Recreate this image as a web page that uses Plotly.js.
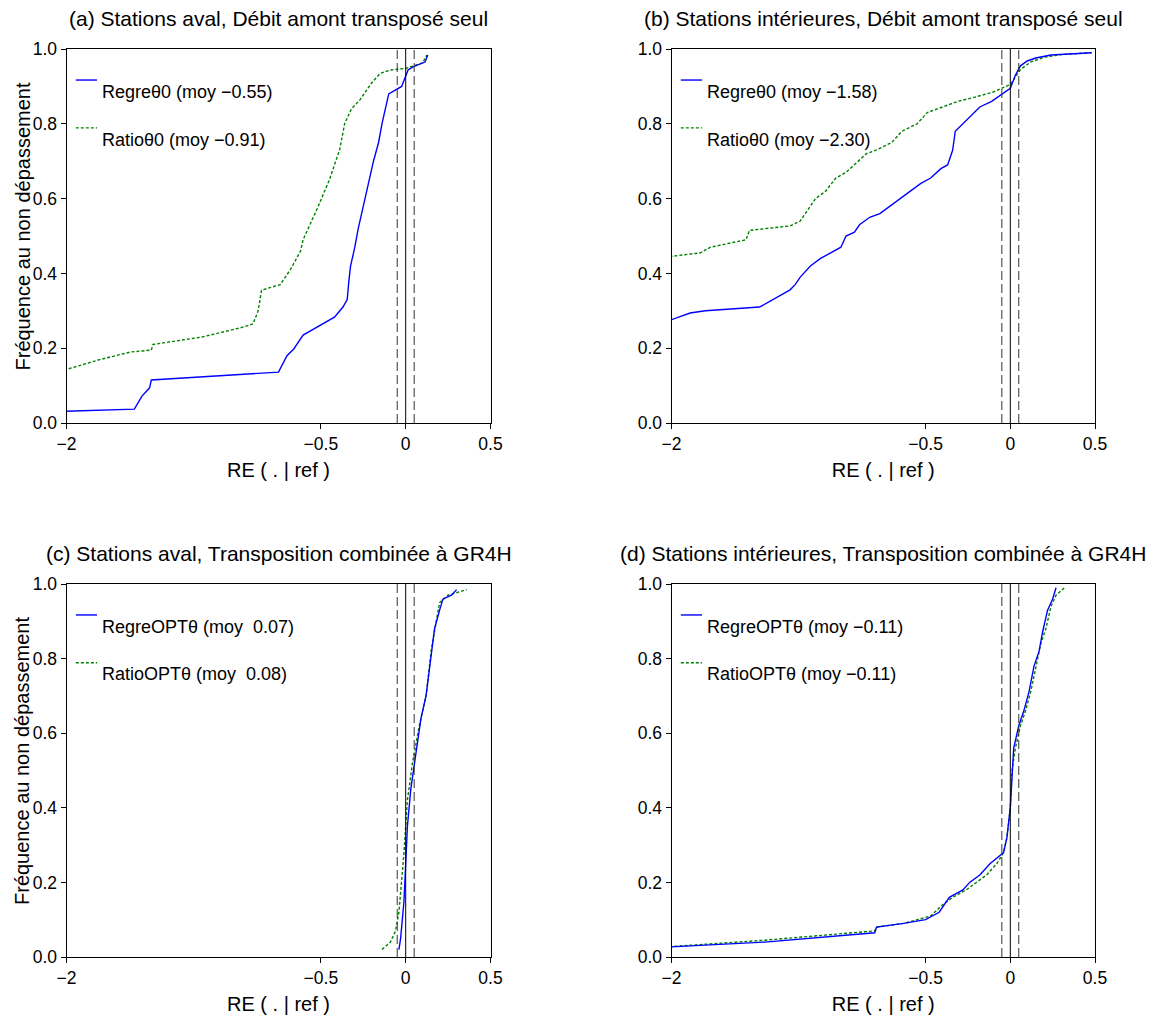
<!DOCTYPE html>
<html><head><meta charset="utf-8">
<script src="https://cdn.plot.ly/plotly-3.0.1.min.js"></script>
<style>body{margin:0;padding:0;background:#fff}#chart{width:1158px;height:1018px}</style>
</head><body><div id="chart"></div>
<script>
// ---- data (RE values, non-exceedance frequency) ----
const panelTitles = [
  "(a) Stations aval, Débit amont transposé seul",
  "(b) Stations intérieures, Débit amont transposé seul",
  "(c) Stations aval, Transposition combinée à GR4H",
  "(d) Stations intérieures, Transposition combinée à GR4H"
];
const blueNames = ["Regreθ0 (moy −0.55)", "Regreθ0 (moy −1.58)", "RegreOPTθ (moy  0.07)", "RegreOPTθ (moy −0.11)"];
const greenNames = ["Ratioθ0 (moy −0.91)", "Ratioθ0 (moy −2.30)", "RatioOPTθ (moy  0.08)", "RatioOPTθ (moy −0.11)"];
const xTitle = "RE ( . | ref )";
const yTitle = "Fréquence au non dépassement";
const xTickVals = [-2, -0.5, 0, 0.5];
const xTickText = ["−2", "−0.5", "0", "0.5"];
const yTickVals = [0, 0.2, 0.4, 0.6, 0.8, 1.0];
const yTickText = ["0.0", "0.2", "0.4", "0.6", "0.8", "1.0"];
const refLines = [-0.05, 0, 0.05];

const aBlueX = [-2.1, -1.60, -1.555, -1.51, -1.50, -0.75, -0.70, -0.66, -0.605, -0.42, -0.37, -0.345, -0.335, -0.325, -0.30, -0.28, -0.25, -0.22, -0.19, -0.16, -0.14, -0.115, -0.10, -0.024, 0.014, 0.043, 0.114, 0.13];
const aBlueY = [0.03, 0.037, 0.072, 0.094, 0.115, 0.136, 0.18, 0.198, 0.235, 0.283, 0.31, 0.33, 0.38, 0.42, 0.47, 0.52, 0.58, 0.64, 0.70, 0.75, 0.80, 0.85, 0.88, 0.90, 0.944, 0.952, 0.965, 0.984];
const aGreenX = [-2.1, -1.8, -1.62, -1.50, -1.49, -1.2, -0.97, -0.90, -0.87, -0.85, -0.74, -0.68, -0.62, -0.605, -0.565, -0.52, -0.45, -0.42, -0.39, -0.36, -0.32, -0.27, -0.20, -0.15, -0.09, 0.0, 0.10, 0.125];
const aGreenY = [0.13, 0.17, 0.19, 0.195, 0.21, 0.23, 0.255, 0.265, 0.30, 0.355, 0.37, 0.41, 0.46, 0.49, 0.53, 0.575, 0.65, 0.69, 0.73, 0.80, 0.84, 0.864, 0.91, 0.935, 0.944, 0.948, 0.963, 0.984];

const bBlueX = [-2.1, -1.89, -1.80, -1.48, -1.30, -1.27, -1.24, -1.18, -1.12, -1.00, -0.97, -0.92, -0.89, -0.83, -0.77, -0.71, -0.65, -0.59, -0.53, -0.47, -0.41, -0.37, -0.34, -0.325, -0.28, -0.24, -0.18, -0.11, -0.06, 0.0, 0.03, 0.06, 0.10, 0.15, 0.24, 0.48];
const bBlueY = [0.26, 0.294, 0.30, 0.31, 0.356, 0.37, 0.39, 0.42, 0.44, 0.47, 0.50, 0.51, 0.53, 0.55, 0.56, 0.58, 0.60, 0.62, 0.64, 0.655, 0.68, 0.69, 0.73, 0.78, 0.80, 0.82, 0.845, 0.86, 0.875, 0.895, 0.93, 0.955, 0.968, 0.976, 0.984, 0.99];
const bGreenX = [-2.1, -1.83, -1.77, -1.56, -1.54, -1.30, -1.24, -1.15, -1.09, -1.03, -0.97, -0.91, -0.85, -0.79, -0.70, -0.64, -0.55, -0.49, -0.40, -0.31, -0.22, -0.10, 0.0, 0.03, 0.06, 0.12, 0.20, 0.30, 0.48];
const bGreenY = [0.44, 0.455, 0.47, 0.49, 0.515, 0.527, 0.54, 0.60, 0.62, 0.655, 0.67, 0.695, 0.72, 0.73, 0.75, 0.78, 0.80, 0.83, 0.845, 0.86, 0.87, 0.885, 0.905, 0.925, 0.945, 0.965, 0.978, 0.985, 0.99];

const cBlueX = [-0.04, -0.03, -0.01, 0.0, 0.01, 0.03, 0.06, 0.09, 0.12, 0.15, 0.17, 0.20, 0.22, 0.27, 0.30];
const cBlueY = [0.02, 0.05, 0.15, 0.26, 0.35, 0.45, 0.55, 0.64, 0.70, 0.80, 0.88, 0.93, 0.96, 0.97, 0.985];
const cGreenX = [-0.14, -0.09, -0.06, -0.04, -0.01, 0.01, 0.04, 0.08, 0.12, 0.15, 0.18, 0.20, 0.25, 0.36];
const cGreenY = [0.02, 0.04, 0.07, 0.12, 0.28, 0.42, 0.52, 0.62, 0.70, 0.82, 0.90, 0.95, 0.97, 0.985];

const dBlueX = [-2.1, -1.45, -0.80, -0.79, -0.63, -0.50, -0.42, -0.36, -0.28, -0.24, -0.18, -0.12, -0.04, -0.02, 0.0, 0.01, 0.02, 0.05, 0.08, 0.11, 0.14, 0.17, 0.19, 0.22, 0.25, 0.27];
const dBlueY = [0.025, 0.04, 0.065, 0.08, 0.09, 0.10, 0.12, 0.16, 0.18, 0.20, 0.22, 0.25, 0.28, 0.32, 0.40, 0.50, 0.56, 0.62, 0.66, 0.71, 0.78, 0.82, 0.87, 0.93, 0.96, 0.99];
const dGreenX = [-2.1, -1.45, -0.80, -0.79, -0.63, -0.47, -0.40, -0.34, -0.26, -0.20, -0.14, -0.08, -0.04, -0.02, 0.0, 0.01, 0.03, 0.06, 0.09, 0.12, 0.15, 0.18, 0.21, 0.24, 0.27, 0.32];
const dGreenY = [0.025, 0.045, 0.07, 0.08, 0.09, 0.11, 0.14, 0.16, 0.18, 0.20, 0.22, 0.25, 0.28, 0.32, 0.40, 0.50, 0.56, 0.62, 0.66, 0.71, 0.78, 0.84, 0.88, 0.94, 0.97, 0.99];

const blueSeries = [[aBlueX, aBlueY], [bBlueX, bBlueY], [cBlueX, cBlueY], [dBlueX, dBlueY]];
const greenSeries = [[aGreenX, aGreenY], [bGreenX, bGreenY], [cGreenX, cGreenY], [dGreenX, dGreenY]];

// ---- layout geometry ----
const W = 1158, H = 1018;
const colX = [[66.5, 490.5], [671.5, 1095]];
const rowY = [[49, 423], [584, 957]];
const FONT = "Liberation Sans, Arial, Helvetica, sans-serif";

const traces = [];
const layout = {
  width: W, height: H, margin: {l: 0, r: 0, t: 0, b: 0},
  paper_bgcolor: "#fff", plot_bgcolor: "#fff", showlegend: false,
  font: {family: FONT, size: 17.5, color: "#000"},
  shapes: [], annotations: []
};

for (let i = 0; i < 4; i++) {
  const col = i % 2, row = Math.floor(i / 2);
  const n = i === 0 ? "" : String(i + 1);
  const xa = "x" + n, ya = "y" + n;
  const xd = [colX[col][0] / W, colX[col][1] / W];
  const yd = [1 - rowY[row][1] / H, 1 - rowY[row][0] / H];
  layout["xaxis" + n] = {
    domain: xd, anchor: ya, range: [-2, 0.5], tickvals: xTickVals, ticktext: xTickText,
    showgrid: false, zeroline: false, showline: true, mirror: true, linecolor: "#000", linewidth: 1,
    ticks: "outside", ticklen: 5, tickcolor: "#000", tickfont: {size: 17.5, family: FONT},
    title: {text: xTitle, font: {size: 20, family: FONT}, standoff: 9}
  };
  layout["yaxis" + n] = {
    domain: yd, anchor: xa, range: [0, 1], tickvals: yTickVals, ticktext: yTickText,
    showgrid: false, zeroline: false, showline: true, mirror: true, linecolor: "#000", linewidth: 1,
    ticks: "outside", ticklen: 5, tickcolor: "#000", tickfont: {size: 17.5, family: FONT},
    title: {text: ""}
  };
  if (col === 0) {
    layout.annotations.push({text: yTitle, textangle: -90, xref: "paper", yref: "paper",
      x: 22 / W, y: 1 - ((rowY[row][0] + rowY[row][1]) / 2 - 9.5) / H, xanchor: "center", yanchor: "middle",
      showarrow: false, font: {size: 20, family: FONT}});
  }
  // reference lines
  refLines.forEach(v => {
    layout.shapes.push({type: "line", xref: xa, yref: ya + " domain", x0: v, x1: v, y0: 0, y1: 1,
      line: {color: v === 0 ? "#000" : "#333", width: 1, dash: v === 0 ? "solid" : "9px,4px"}});
  });
  // curves
  traces.push({x: greenSeries[i][0], y: greenSeries[i][1], xaxis: xa, yaxis: ya, mode: "lines",
    line: {color: "#008000", width: 1.4, dash: "3px,2px"}, hoverinfo: "skip"});
  traces.push({x: blueSeries[i][0], y: blueSeries[i][1], xaxis: xa, yaxis: ya, mode: "lines",
    line: {color: "#0000ff", width: 1.4}, hoverinfo: "skip"});
  // panel title
  layout.annotations.push({text: panelTitles[i], xref: "paper", yref: "paper",
    x: (xd[0] + xd[1]) / 2, y: 1 - (rowY[row][0] - 31) / H, xanchor: "center", yanchor: "middle",
    showarrow: false, font: {size: 21, family: FONT}});
  // legend
  const legs = [[blueNames[i], "#0000ff", "solid", 0.917, 0.886], [greenNames[i], "#008000", "3px,2px", 0.789, 0.758]];
  legs.forEach(l => {
    layout.shapes.push({type: "line", xref: xa + " domain", yref: ya + " domain", x0: 0.022, x1: 0.072, y0: l[3], y1: l[3],
      line: {color: l[1], width: 1.4, dash: l[2]}});
    layout.annotations.push({text: l[0], xref: xa + " domain", yref: ya + " domain", x: 0.078, y: l[4],
      xanchor: "left", yanchor: "middle", showarrow: false, font: {size: 18, family: FONT}});
  });
}

Plotly.newPlot("chart", traces, layout, {staticPlot: true});
</script>
</body></html>
